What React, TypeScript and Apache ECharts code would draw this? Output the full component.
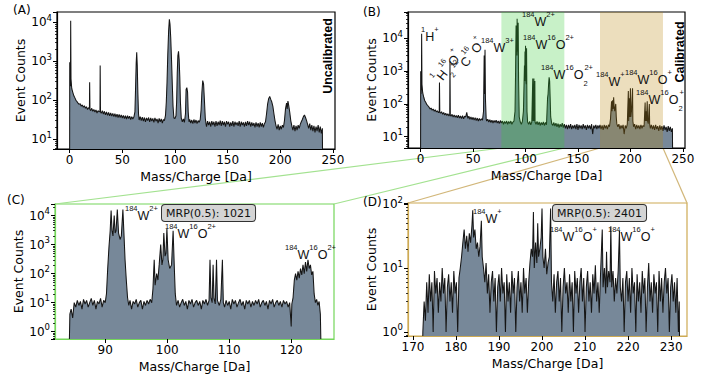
import React, { useEffect, useRef } from "react";
import * as echarts from "echarts";

const FONT = "DejaVu Sans, Verdana, sans-serif";
const LFONT = "Liberation Sans, Arial, sans-serif";

// ---------- data: [mass/charge, counts] ----------
const specA: number[][] = [
  [0,3],[0.1,950],[0.4,260],[0.8,230],[1.0,11000],[1.3,350],[2,200],[3,160],[4,130],[5,115],[6,100],[7,92],[8,84],[9,78],[10,82],[11,70],[12,76],[13,66],[14,72],[15,62],[16,68],[17,58],[18,64],[18.8,62],[19.0,290],[19.3,58],[20,54],[21,62],[22,52],[23,58],[24,50],[25,56],[26,47],[27,54],[28,50],[28.8,52],[29.0,780],[29.3,50],[30,46],[31,54],[32,44],[33,52],[34,42],[35,50],[36,41],[37,49],[38,40],[39,47],[40,39],[41,46],[42,38],[43,45],[44,37],[45,44],[46,36],[47,43],[48,36],[49,42],[50,35],[51,41],[52,34],[53,40],[54,33],[55,40],[56,34],[57,39],[58,32],[59,38],[60,33],[61,37],[62,50],[62.6,200],[63.2,900],[63.7,1700],[64.2,800],[64.8,150],[65.4,45],[66,31],[67,38],[68,30],[69,37],[70,29],[71,36],[72,28],[73,35],[74,30],[75,36],[76,28],[77,35],[78,29],[79,34],[80,27],[81,35],[82,29],[83,33],[84,26],[85,34],[86,28],[87,33],[88,26],[89,32],[90,30],[91,40],[91.8,90],[92.5,300],[93.2,1500],[94,6000],[94.7,12000],[95.3,9000],[96,4000],[96.8,1000],[97.5,250],[98.2,70],[99,35],[100,34],[101,40],[101.6,90],[102.2,500],[102.8,1400],[103.4,1800],[104,1100],[104.6,400],[105.2,90],[106,35],[107,28],[108,33],[109,27],[110,45],[110.6,190],[111.3,210],[112,160],[112.6,50],[113.3,28],[114,32],[115,26],[116,31],[117,25],[118,32],[119,26],[120,31],[121,25],[122,30],[123,27],[124,32],[124.8,55],[125.6,160],[126.4,320],[127.2,260],[128,100],[128.8,35],[129.5,25],[130,21],[131,29],[132,23],[133,28],[134,21],[135,29],[136,23],[137,28],[138,21],[139,29],[140,22],[141,28],[142,23],[143,30],[144,22],[145,29],[146,23],[147,28],[148,21],[149,29],[150,24],[151,28],[152,21],[153,27],[154,22],[155,29],[156,21],[157,28],[158,23],[159,27],[160,22],[161,29],[162,21],[163,28],[164,23],[165,27],[166,21],[167,28],[168,22],[169,29],[170,23],[171,28],[172,21],[173,27],[174,22],[175,26],[176,20],[177,27],[178,21],[179,26],[180,20],[181,27],[182,21],[183,26],[184,20],[185,25],[186,28],[187,45],[188,80],[189,110],[190,125],[191,105],[192,90],[193,70],[194,45],[195,30],[196,22],[197,18],[198,24],[199,17],[200,22],[201,18],[202,23],[203,20],[204,30],[205,60],[206,85],[206.6,60],[207.3,95],[208,75],[209,50],[210,30],[211,22],[212,17],[213,23],[214,16],[215,22],[216,17],[217,23],[218,19],[219,24],[220,28],[221,32],[222,38],[223,42],[224,36],[225,30],[226,24],[227,19],[228,25],[229,17],[230,23],[231,16],[232,22],[233,15],[234,21],[235,16],[236,23],[237,15],[238,21],[239,14],[240,19],[240.2,3]
];

const specB: number[][] = [
  [0,3],[0.1,1000],[0.4,200],[0.8,300],[1.0,14000],[1.3,400],[2,220],[3,160],[4,125],[5,110],[6,95],[7,88],[8,80],[9,70],[10,75],[11,64],[12,70],[13,60],[14,66],[15,57],[16,62],[17,54],[17.8,60],[18.0,450],[18.3,55],[19,52],[20,58],[21,48],[22,55],[23,46],[24,52],[25,44],[26,50],[27,43],[27.8,48],[28.0,2000],[28.3,46],[29,42],[30,48],[31,40],[32,46],[33,39],[34,44],[35,38],[36,45],[37,37],[38,43],[39,36],[40,44],[41,35],[42,42],[43,40],[44,55],[45,36],[46,42],[47,34],[48,40],[49,33],[50,39],[51,32],[52,38],[53,31],[54,37],[55,30],[56,36],[57,31],[58,35],[59,32],[60,60],[60.6,3000],[61.0,200],[61.4,4500],[61.8,150],[62.5,35],[63,30],[64,34],[65,28],[66,33],[67,27],[68,32],[69,26],[70,31],[71,27],[72,32],[73,26],[74,30],[75,25],[76,31],[77,26],[78,30],[79,24],[80,29],[81,25],[82,30],[83,24],[84,29],[85,25],[86,30],[87,24],[88,28],[89,30],[90,60],[90.5,800],[91,25000],[91.3,3000],[91.5,15000],[91.8,4000],[92,40000],[92.4,5000],[92.7,3000],[93,30000],[93.4,500],[94,40],[95,28],[96,24],[97,29],[98,60],[98.5,300],[99,1500],[99.3,500],[99.5,4000],[99.8,800],[100,6000],[100.4,500],[100.7,400],[101,5000],[101.4,60],[102,28],[103,24],[104,29],[105,23],[106,28],[106.9,600],[107.1,30],[107.4,300],[107.6,30],[108,600],[108.2,30],[108.9,500],[109.1,28],[110,24],[111,29],[112,23],[113,28],[114,22],[115,27],[116,23],[117,28],[118,22],[119,27],[120,23],[120.5,60],[121,150],[121.5,200],[122,400],[122.5,650],[123,500],[123.5,150],[124,40],[125,25],[126,22],[127,27],[128,21],[129,26],[130,20],[131,25],[132,19],[133,24],[134,20],[135,26],[136,19],[137,24],[138,18],[139,23],[140,17],[141,23],[142,18],[143,24],[144,17],[145,22],[146,18],[147,23],[148,17],[149,24],[150,16],[151,23],[152,18],[153,22],[154,17],[155,24],[156,18],[157,22],[158,16],[159,23],[160,18],[161,22],[162,17],[163,24],[164,12],[165,22],[166,18],[167,23],[168,17],[169,22],[170,18],[171,23],[172,17],[173,22],[174,16],[175,23],[176,18],[177,22],[178,17],[179,23],[180,20],[181,35],[182,120],[182.5,60],[183,130],[183.5,70],[184,160],[184.5,80],[185,60],[186,100],[186.5,40],[187,25],[188,20],[189,24],[190,17],[191,22],[192,18],[193,23],[194,12],[195,22],[196,18],[197,24],[198,250],[198.3,30],[199,150],[199.3,40],[200,300],[200.3,40],[201,60],[202,300],[202.3,30],[203,20],[204,24],[205,17],[206,23],[207,18],[208,22],[209,17],[210,23],[211,18],[212,22],[213,20],[214,110],[214.3,30],[215,60],[215.3,30],[216,120],[216.3,30],[217,25],[218,100],[218.3,25],[219,18],[220,23],[221,17],[222,22],[223,16],[224,23],[225,17],[226,21],[227,15],[228,22],[229,16],[230,21],[231,15],[232,22],[233,16],[234,20],[235,14],[236,21],[237,15],[238,20],[239,14],[240,18],[240.2,3]
];

const specC: number[][] = [
  [84.2,0.3],[84.3,4],[84.5,6],[84.75,3],[85,10],[85.25,7],[85.5,12],[85.75,8],[86,11],[86.25,6],[86.5,13],[86.75,9],[87,12],[87.25,7],[87.5,10],[87.75,14],[88,8],[88.25,12],[88.5,6],[88.75,11],[89,9],[89.25,14],[89.5,7],[89.75,12],[90,10],[90.2,20],[90.4,150],[90.6,800],[90.8,3000],[90.95,15000],[91.1,3000],[91.25,2000],[91.45,10000],[91.6,2500],[91.75,3000],[91.95,16000],[92.15,2500],[92.4,1500],[92.6,2000],[92.85,16000],[93.0,3000],[93.2,300],[93.4,60],[93.6,15],[93.8,8],[94,12],[94.25,6],[94.5,11],[94.75,9],[95,13],[95.25,7],[95.5,10],[95.75,12],[96,6],[96.25,11],[96.5,8],[96.75,12],[97,9],[97.25,13],[97.5,10],[97.7,30],[97.9,300],[98.05,40],[98.3,100],[98.5,60],[98.7,200],[98.95,1000],[99.15,200],[99.3,300],[99.45,2500],[99.65,400],[99.8,500],[99.95,3500],[100.15,300],[100.4,150],[100.7,200],[100.95,3000],[101.15,150],[101.3,20],[101.5,8],[101.75,12],[102,7],[102.25,10],[102.5,13],[102.75,8],[103,11],[103.25,6],[103.5,12],[103.75,9],[104,13],[104.25,7],[104.5,10],[104.75,12],[105,8],[105.25,11],[105.5,6],[105.75,12],[106,9],[106.25,13],[106.5,8],[106.75,12],[106.9,300],[107.05,15],[107.25,10],[107.4,200],[107.55,14],[107.75,9],[107.95,300],[108.1,12],[108.4,8],[108.65,13],[108.9,300],[109.05,10],[109.25,7],[109.5,12],[109.75,8],[110,11],[110.25,6],[110.5,13],[110.75,9],[111,12],[111.25,7],[111.5,10],[111.75,13],[112,8],[112.25,11],[112.5,6],[112.75,12],[113,9],[113.25,12],[113.5,7],[113.75,11],[114,8],[114.25,12],[114.5,9],[114.75,13],[115,7],[115.25,10],[115.5,12],[115.75,8],[116,11],[116.25,6],[116.5,12],[116.75,9],[117,13],[117.25,7],[117.5,10],[117.75,12],[118,8],[118.25,11],[118.5,7],[118.75,12],[119,9],[119.25,11],[119.5,7],[119.75,10],[120,1.5],[120.1,9],[120.3,15],[120.5,60],[120.7,100],[120.9,60],[121.1,120],[121.3,70],[121.5,150],[121.7,90],[121.9,200],[122.1,100],[122.3,250],[122.5,120],[122.7,300],[122.9,150],[123.1,200],[123.3,90],[123.5,120],[123.7,20],[123.9,10],[124.1,13],[124.3,8],[124.5,11],[124.7,4],[124.8,0.3]
];

const specD: number[][] = [
  [172.2,0.3],[172.3,1],[172.6,3],[172.9,1.5],[173.2,6],[173.5,2],[173.8,8],[174.1,3],[174.4,6],[174.7,1],[175,9],[175.3,4],[175.6,7],[175.9,2],[176.2,6],[176.5,3],[176.8,10],[177.1,4],[177.4,7],[177.7,1],[178,5],[178.3,8],[178.6,3],[178.9,6],[179.2,2],[179.5,9],[179.8,4],[180.1,6],[180.4,1],[180.7,7],[181,10],[181.3,15],[181.6,25],[181.9,40],[182.2,20],[182.5,32],[182.8,18],[183.1,35],[183.4,25],[183.7,45],[183.9,80],[184.1,30],[184.4,40],[184.7,20],[185,25],[185.3,15],[185.6,22],[185.9,55],[186.1,15],[186.4,10],[186.7,6],[187,12],[187.3,4],[187.6,8],[187.9,2],[188.2,6],[188.5,9],[188.8,3],[189.1,7],[189.4,1],[189.7,5],[190,8],[190.3,3],[190.6,10],[190.9,4],[191.2,6],[191.5,1],[191.8,8],[192.1,3],[192.4,6],[192.7,2],[193,9],[193.3,4],[193.6,7],[193.9,1],[194.2,5],[194.5,9],[194.8,3],[195.1,6],[195.4,2],[195.7,10],[196,4],[196.3,7],[196.6,2],[196.9,6],[197.2,12],[197.5,20],[197.8,15],[198,75],[198.2,10],[198.5,25],[198.8,12],[199,50],[199.2,15],[199.5,20],[199.8,30],[200,85],[200.2,15],[200.5,10],[200.8,20],[201.1,8],[201.4,12],[201.7,15],[202,85],[202.2,6],[202.5,3],[202.8,8],[203.1,2],[203.4,6],[203.7,9],[204,3],[204.3,7],[204.6,1],[204.9,5],[205.2,10],[205.5,4],[205.8,6],[206.1,2],[206.4,8],[206.7,3],[207,6],[207.3,1],[207.6,9],[207.9,4],[208.2,7],[208.5,2],[208.8,6],[209.1,10],[209.4,3],[209.7,7],[210,1],[210.3,5],[210.6,9],[210.9,3],[211.2,6],[211.5,2],[211.8,8],[212.1,4],[212.4,11],[212.7,3],[213,6],[213.3,2],[213.6,8],[214,40],[214.2,5],[214.5,10],[214.8,4],[215,18],[215.2,5],[215.5,9],[215.8,6],[216,45],[216.2,5],[216.5,9],[216.8,3],[217.1,7],[217.4,4],[217.7,9],[218,38],[218.2,5],[218.5,3],[218.8,7],[219.1,1],[219.4,6],[219.7,9],[220,3],[220.3,7],[220.6,2],[220.9,10],[221.2,4],[221.5,6],[221.8,1],[222.1,8],[222.4,3],[222.7,6],[223,2],[223.3,9],[223.6,4],[223.9,7],[224.2,1],[224.5,5],[224.8,12],[225.1,3],[225.4,6],[225.7,2],[226,8],[226.3,4],[226.6,6],[226.9,1],[227.2,9],[227.5,3],[227.8,7],[228.1,2],[228.4,6],[228.7,10],[229,4],[229.3,7],[229.6,1],[229.9,5],[230.2,8],[230.5,3],[230.8,6],[231.1,2],[231.4,7],[231.7,1],[231.9,3],[232,0.3]
];

// axis limits
const xLimA = [-12, 252];
const yLimA = [5.6, 18400];
const xLimB = [-12, 252];
const yLimB = [4.5, 64500];
const xLimC = [81.9, 126.9];
const yLimC = [0.56, 25000];
const xLimD = [168.85, 233.7];
const yLimD = [0.865, 104];

// highlighted ranges in panel B
const bandC = [77, 137];
const bandD = [171, 231];

const MRP_C = "MRP(0.5): 1021";
const MRP_D = "MRP(0.5): 2401";

const GREEN_BORDER = "#74d65a";
const TAN_BORDER = "#cdaa54";
const GREEN_LINK = "#a3e290";
const TAN_LINK = "#d2b77a";
const FILL = "#778899";

export default function App() {
  const ref = useRef<HTMLDivElement>(null);
  useEffect(() => {
    document.body.style.margin = "0";
    const chart = echarts.init(ref.current!, null, { renderer: "svg" });

    const grids = [
      { left: 57, top: 12, width: 278, height: 137, border: "#000" },
      { left: 408, top: 12, width: 277, height: 136, border: "#000" },
      { left: 55, top: 204, width: 279, height: 135, border: GREEN_BORDER },
      { left: 408, top: 203, width: 279, height: 133, border: TAN_BORDER },
    ];
    const xl = [xLimA, xLimB, xLimC, xLimD];
    const yl = [yLimA, yLimB, yLimC, yLimD];
    const specs = [specA, specB, specC, specD];

    const yFmt = (v: number) => {
      const e = Math.log10(v);
      const r = Math.round(e);
      if (Math.abs(e - r) > 1e-6) return "";
      return `{a|10}{s|${r}}`;
    };

    const option: any = {
      animation: false,
      grid: grids.map((g) => ({
        left: g.left, top: g.top, width: g.width, height: g.height,
        show: true, borderColor: g.border, borderWidth: 1.2,
        backgroundColor: "transparent", containLabel: false, outerBoundsMode: "none",
      })),
      xAxis: grids.map((g, i) => ({
        type: "value", gridIndex: i, min: xl[i][0], max: xl[i][1], z: 5,
        axisLine: { show: true, onZero: false, lineStyle: { color: g.border, width: 1.2 } },
        axisTick: { show: true, length: 4, lineStyle: { color: "#000", width: 1 } },
        splitLine: { show: false },
        axisLabel: { show: true, margin: 5, color: "#000", fontSize: 12, fontFamily: FONT, showMinLabel: false, showMaxLabel: false },
        name: "Mass/Charge [Da]", nameLocation: "middle", nameGap: 21,
        nameTextStyle: { color: "#000", fontSize: 12.5, fontFamily: FONT },
      })),
      yAxis: grids.map((g, i) => ({
        type: "log", logBase: 10, gridIndex: i, min: yl[i][0], max: yl[i][1], z: 5,
        axisLine: { show: true, onZero: false, lineStyle: { color: g.border, width: 1.2 } },
        axisTick: { show: true, length: 4, lineStyle: { color: "#000", width: 1 } },
        minorTick: { show: true, splitNumber: 9, length: 2, lineStyle: { color: "#000", width: 0.8 } },
        splitLine: { show: false },
        minorSplitLine: { show: false },
        axisLabel: {
          show: true, margin: 5, formatter: yFmt, showMinLabel: false, showMaxLabel: false,
          rich: {
            a: { fontSize: 12, fontFamily: FONT, color: "#000", lineHeight: 18 },
            s: { fontSize: 8.5, fontFamily: FONT, color: "#000", lineHeight: 10, verticalAlign: "top" },
          },
        },
        name: "Event Counts", nameLocation: "middle", nameGap: 28,
        nameTextStyle: { color: "#000", fontSize: 12.5, fontFamily: FONT },
      })),
      series: specs.map((d, i) => {
        const s: any = {
          type: "line", xAxisIndex: i, yAxisIndex: i, data: d,
          showSymbol: false, symbol: "none", silent: true, clip: true, z: 2,
          lineStyle: { color: "#151515", width: 1.05 },
          areaStyle: { color: FILL, opacity: 1, origin: "start" },
        };
        if (i === 1) {
          s.markArea = {
            silent: true, z: 10,
            data: [
              [{ xAxis: bandC[0], itemStyle: { color: "rgba(50,205,50,0.27)" } }, { xAxis: bandC[1] }],
              [{ xAxis: bandD[0], itemStyle: { color: "rgba(184,134,11,0.27)" } }, { xAxis: bandD[1] }],
            ],
          };
        }
        return s;
      }),
    };
    chart.setOption(option);

    const px = (ax: number, v: number) => chart.convertToPixel({ xAxisIndex: ax } as any, v) as unknown as number;
    const py = (ax: number, v: number) => chart.convertToPixel({ yAxisIndex: ax } as any, v) as unknown as number;
    const bBot = py(1, yLimB[0]);
    const cTop = py(2, yLimC[1]);
    const dTop = py(3, yLimD[1]);

    const rich = {
      m: { fontFamily: LFONT, fontSize: 12.5, lineHeight: 24, fill: "#111" },
      p: { fontFamily: LFONT, fontSize: 7.5, lineHeight: 14, verticalAlign: "top", fill: "#111" },
      b: { fontFamily: LFONT, fontSize: 7.5, lineHeight: 14, verticalAlign: "bottom", fill: "#111", width: 1 },
    };
    const chem = (text: string, x: number, y: number, rot = 0) => ({
      type: "text", x, y, rotation: rot, z: 50,
      style: { text, rich, align: "left", verticalAlign: "middle" },
    });
    const plain = (text: string, x: number, y: number, extra: any = {}) => ({
      type: "text", x, y, z: 50,
      style: { text, font: `12px ${FONT}`, fill: "#000", align: "left", verticalAlign: "middle", ...extra },
    });
    const mrp = (text: string, x: number, y: number) => ({
      type: "text", x, y, z: 50,
      style: {
        text, font: `11px ${FONT}`, fill: "#111", align: "left", verticalAlign: "top",
        backgroundColor: "#d4d4d4", borderColor: "#333", borderWidth: 1, borderRadius: 3, padding: [3, 4, 2, 4],
      },
    });
    const link = (x1: number, y1: number, x2: number, y2: number, color: string) => ({
      type: "line", z: 1, silent: true,
      shape: { x1, y1, x2, y2 },
      style: { stroke: color, lineWidth: 1.2 },
    });
    const rot = (52 * Math.PI) / 180;

    chart.setOption({
      graphic: [
        link(px(1, bandC[0]), bBot, px(2, xLimC[0]), cTop, GREEN_LINK),
        link(px(1, bandC[1]), bBot, px(2, xLimC[1]), cTop, GREEN_LINK),
        link(px(1, bandD[0]), bBot, px(3, xLimD[0]), dTop, TAN_LINK),
        link(px(1, bandD[1]), bBot, px(3, xLimD[1]), dTop, TAN_LINK),
        plain("(A)", 13, 10),
        plain("(B)", 363, 12),
        plain("(C)", 7, 200),
        plain("(D)", 363, 202),
        {
          type: "text", x: 328, y: 56, rotation: Math.PI / 2, z: 50,
          style: { text: "Uncalibrated", font: `bold 12.5px ${LFONT}`, fill: "#000", align: "center", verticalAlign: "middle" },
        },
        {
          type: "text", x: 680, y: 52, rotation: Math.PI / 2, z: 50,
          style: { text: "Calibrated", font: `bold 12.5px ${LFONT}`, fill: "#000", align: "center", verticalAlign: "middle" },
        },
        chem("{p|1}{m|H}{p|+}", 421, 37),
        chem("{p|1}{m|H}{b|2}{p|16}{m|O}{p|+}", 437, 82, rot),
        chem("{p|12}{m|C}{p|16}{m|O}{p|+}", 458, 72, rot),
        chem("{p|184}{m|W}{p|3+}", 481, 48),
        chem("{p|184}{m|W}{p|2+}", 522, 22),
        chem("{p|184}{m|W}{p|16}{m|O}{p|2+}", 523, 45),
        chem("{p|184}{m|W}{p|16}{m|O}{b|2}{p|2+}", 541, 75),
        chem("{p|184}{m|W}{p|+}", 596, 82),
        chem("{p|184}{m|W}{p|16}{m|O}{p|+}", 625, 80),
        chem("{p|184}{m|W}{p|16}{m|O}{b|2}{p|+}", 636, 100),
        chem("{p|184}{m|W}{p|2+}", 125, 216),
        mrp(MRP_C, 162, 205),
        chem("{p|184}{m|W}{p|16}{m|O}{p|2+}", 165, 234),
        chem("{p|184}{m|W}{p|16}{m|O}{p|2+}", 285, 255),
        chem("{p|184}{m|W}{p|+}", 473, 219),
        mrp(MRP_D, 553, 205),
        chem("{p|184}{m|W}{p|16}{m|O}{p|+}", 550, 237),
        chem("{p|184}{m|W}{p|16}{m|O}{p|+}", 608, 237),
      ],
    });

    return () => chart.dispose();
  }, []);
  return <div ref={ref} style={{ width: 709, height: 376 }} />;
}
